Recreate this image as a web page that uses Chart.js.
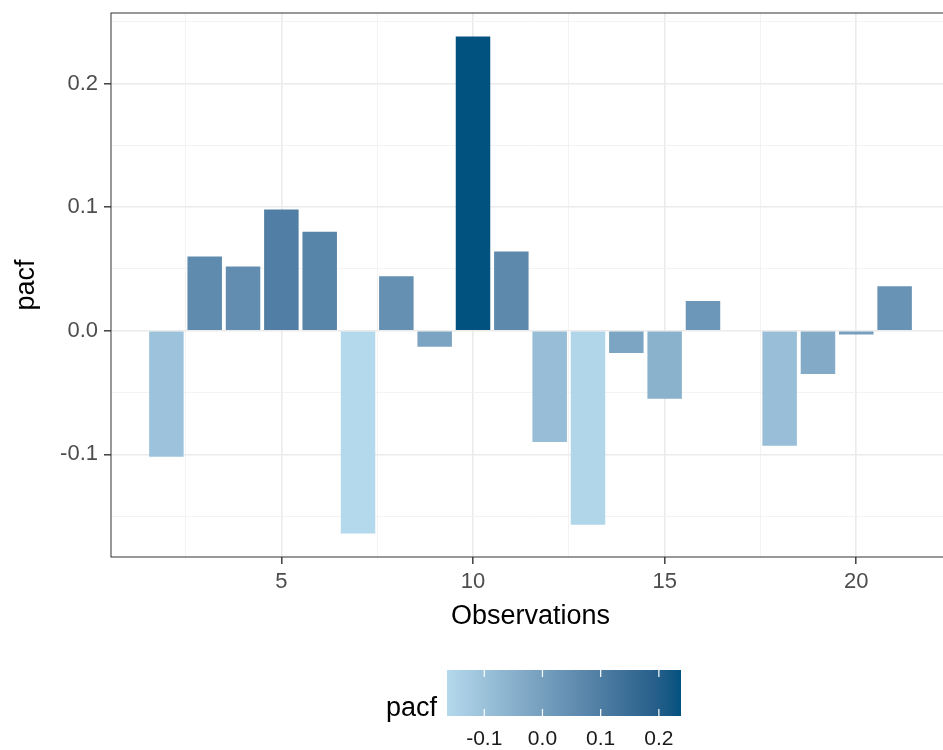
<!DOCTYPE html>
<html>
<head>
<meta charset="utf-8">
<script src="https://cdn.jsdelivr.net/npm/chart.js@4.4.1/dist/chart.umd.min.js"></script>
<style>
  html, body { margin: 0; padding: 0; background: #fff; overflow: hidden; }
  #wrap { width: 960px; height: 750px; }
</style>
</head>
<body>
<div id="wrap"><canvas id="pacf-chart" width="960" height="750"></canvas></div>
<script>
// Data
const lags = [2, 3, 4, 5, 6, 7, 8, 9, 10, 11, 12, 13, 14, 15, 16, 17, 18, 19, 20, 21];
const pacf = [-0.102, 0.060, 0.052, 0.098, 0.080, -0.164, 0.044, -0.013, 0.238, 0.064,
              -0.090, -0.157, -0.018, -0.055, 0.024, null, -0.093, -0.035, -0.003, 0.036];

const xMajor = [5, 10, 15, 20];
const xMinor = [2.5, 7.5, 12.5, 17.5];
const yMajor = [-0.1, 0, 0.1, 0.2];
const yMinor = [-0.15, -0.05, 0.05, 0.15, 0.25];
const legendTicks = [-0.1, 0, 0.1, 0.2];

const lowColor = '#B4D9EC';
const highColor = '#02527F';
const FONT = '"Liberation Sans", Arial, Helvetica, sans-serif';

// colour ramp in CIELAB, like ggplot's gradient
function hexToRgb(h) { const n = parseInt(h.slice(1), 16); return [n >> 16 & 255, n >> 8 & 255, n & 255]; }
function toLin(c) { c /= 255; return c <= 0.04045 ? c / 12.92 : Math.pow((c + 0.055) / 1.055, 2.4); }
function fromLin(c) {
  const v = c <= 0.0031308 ? 12.92 * c : 1.055 * Math.pow(c, 1 / 2.4) - 0.055;
  return Math.round(Math.min(1, Math.max(0, v)) * 255);
}
function rgbToLab(rgb) {
  const [r, g, b] = rgb.map(toLin);
  const x = (0.4124 * r + 0.3576 * g + 0.1805 * b) / 0.95047;
  const y = 0.2126 * r + 0.7152 * g + 0.0722 * b;
  const z = (0.0193 * r + 0.1192 * g + 0.9505 * b) / 1.08883;
  const f = t => t > 0.008856 ? Math.cbrt(t) : 7.787 * t + 16 / 116;
  const fx = f(x), fy = f(y), fz = f(z);
  return [116 * fy - 16, 500 * (fx - fy), 200 * (fy - fz)];
}
function labToRgb(lab) {
  const fy = (lab[0] + 16) / 116, fx = fy + lab[1] / 500, fz = fy - lab[2] / 200;
  const fi = t => t * t * t > 0.008856 ? t * t * t : (t - 16 / 116) / 7.787;
  const x = fi(fx) * 0.95047, y = fi(fy), z = fi(fz) * 1.08883;
  return [
     3.2406 * x - 1.5372 * y - 0.4986 * z,
    -0.9689 * x + 1.8758 * y + 0.0415 * z,
     0.0557 * x - 0.2040 * y + 1.0570 * z
  ].map(fromLin);
}
const lowLab = rgbToLab(hexToRgb(lowColor));
const highLab = rgbToLab(hexToRgb(highColor));
const vals = pacf.filter(v => v !== null);
const vMin = Math.min(...vals), vMax = Math.max(...vals);

function fillFor(v) {
  const t = Math.min(1, Math.max(0, (v - vMin) / (vMax - vMin)));
  const lab = lowLab.map((c, i) => c + (highLab[i] - c) * t);
  const [r, g, b] = labToRgb(lab);
  return `rgb(${r},${g},${b})`;
}

const near = (a, b) => Math.abs(a - b) < 1e-9;
const isMajor = (list, v) => list.some(m => near(m, v));

// panel border drawn over the bars
const panelBorder = {
  id: 'panelBorder',
  afterDatasetsDraw(chart) {
    const { ctx, chartArea: a } = chart;
    ctx.save();
    ctx.strokeStyle = '#333333';
    ctx.lineWidth = 1;
    ctx.strokeRect(a.left, a.top, a.right - a.left, a.bottom - a.top);
    ctx.restore();
  }
};

// colour bar legend
const colorbar = {
  id: 'colorbar',
  afterDraw(chart) {
    const ctx = chart.ctx;
    const x0 = 447, x1 = 681, y0 = 670, y1 = 716;
    ctx.save();
    for (let px = x0; px < x1; px++) {
      const v = vMin + (px + 0.5 - x0) / (x1 - x0) * (vMax - vMin);
      ctx.fillStyle = fillFor(v);
      ctx.fillRect(px, y0, 1, y1 - y0);
    }
    ctx.strokeStyle = '#ffffff';
    ctx.lineWidth = 1.2;
    ctx.fillStyle = '#1a1a1a';
    ctx.font = `21px ${FONT}`;
    ctx.textAlign = 'center';
    ctx.textBaseline = 'middle';
    legendTicks.forEach(v => {
      const px = x0 + (v - vMin) / (vMax - vMin) * (x1 - x0);
      ctx.beginPath();
      ctx.moveTo(px, y0); ctx.lineTo(px, y0 + 7);
      ctx.moveTo(px, y1 - 7); ctx.lineTo(px, y1);
      ctx.stroke();
      ctx.fillText(v.toFixed(1), px, 739);
    });
    ctx.font = `27px ${FONT}`;
    ctx.fillStyle = '#000000';
    ctx.textAlign = 'right';
    ctx.textBaseline = 'alphabetic';
    ctx.fillText('pacf', 437, 716);
    ctx.restore();
  }
};

const ctx = document.getElementById('pacf-chart');
new Chart(ctx, {
  type: 'bar',
  data: {
    datasets: [{
      label: 'pacf',
      data: lags.map((x, i) => ({ x, y: pacf[i] })),
      backgroundColor: pacf.map(v => v === null ? 'transparent' : fillFor(v)),
      borderWidth: 0,
      categoryPercentage: 1,
      barPercentage: 0.9
    }]
  },
  options: {
    responsive: false,
    devicePixelRatio: 1,
    animation: false,
    layout: { padding: { top: 13, right: 10, left: 0, bottom: 0 } },
    plugins: {
      legend: { display: false },
      tooltip: { enabled: false }
    },
    scales: {
      x: {
        type: 'linear',
        min: 0.555,
        max: 22.445,
        offset: false,
        afterBuildTicks: s => { s.ticks = [...xMinor, ...xMajor].sort((a, b) => a - b).map(value => ({ value })); },
        afterFit: s => { s.height = 193; s.paddingLeft = 0; s.paddingRight = 0; },
        border: { display: false },
        grid: {
          offset: false,
          color: c => isMajor(xMajor, c.tick.value) ? '#EBEBEB' : '#F2F2F2',
          lineWidth: c => isMajor(xMajor, c.tick.value) ? 1.6 : 0.9,
          tickColor: c => isMajor(xMajor, c.tick.value) ? '#333333' : 'rgba(0,0,0,0)',
          tickLength: 7,
          tickWidth: 1.4
        },
        ticks: {
          autoSkip: false,
          maxRotation: 0,
          padding: 5,
          color: '#4D4D4D',
          font: { family: FONT, size: 22 },
          callback: v => isMajor(xMajor, v) ? String(v) : ''
        },
        title: {
          display: true,
          text: 'Observations',
          color: '#000000',
          font: { family: FONT, size: 27 },
          padding: { top: 0, bottom: 117 }
        }
      },
      y: {
        min: -0.183,
        max: 0.257,
        afterBuildTicks: s => { s.ticks = [...yMinor, ...yMajor].sort((a, b) => a - b).map(value => ({ value })); },
        afterFit: s => { s.width = 111; s.paddingTop = 0; s.paddingBottom = 0; },
        border: { display: false },
        grid: {
          color: c => isMajor(yMajor, c.tick.value) ? '#EBEBEB' : '#F2F2F2',
          lineWidth: c => isMajor(yMajor, c.tick.value) ? 1.6 : 0.9,
          tickColor: c => isMajor(yMajor, c.tick.value) ? '#333333' : 'rgba(0,0,0,0)',
          tickLength: 7,
          tickWidth: 1.4
        },
        ticks: {
          autoSkip: false,
          padding: 6,
          color: '#4D4D4D',
          font: { family: FONT, size: 22 },
          callback: v => isMajor(yMajor, v) ? v.toFixed(1) : ''
        },
        title: {
          display: true,
          text: 'pacf',
          color: '#000000',
          font: { family: FONT, size: 27 },
          padding: { top: 10, bottom: 0 }
        }
      }
    }
  },
  plugins: [panelBorder, colorbar]
});
</script>
</body>
</html>
